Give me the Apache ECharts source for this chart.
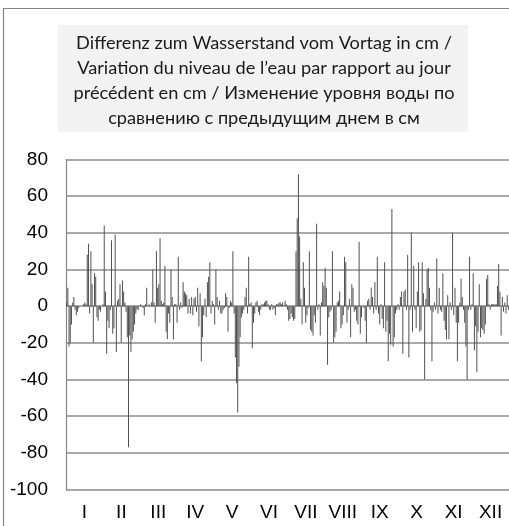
<!DOCTYPE html>
<html>
<head>
<meta charset="utf-8">
<script src="https://cdn.jsdelivr.net/npm/echarts@6/dist/echarts.min.js"></script>
<style>
  html, body { margin: 0; padding: 0; background: #ffffff; }
  #chart { width: 509px; height: 526px; }
</style>
</head>
<body>
<div id="chart"></div>
<script>
// Daily change of the water level against the previous day, in cm, month by month
const jan = [2, 10, -22, -20, -10, 2, 5, -2, -5, -3, -1, 0, 0, 0, 1, 2, 1, 28, 34, -4, 30, 12, -20, 18, 16, -6, -8, -2, -3, 0, 1];
const feb = [44, 8, -26, -8, -12, -2, 36, -15, -12, 39, -25, 3, 4, 12, -20, 14, 8, 2, -3, -17, -77, -16, -25, -18, -14, -10, -4, -2];
const mar = [-2, 0, 1, 0, -1, -5, 1, 10, 0, 1, 0, 2, 20, 2, -9, 30, 10, 12, 37, 3, 1, 2, 22, -14, -18, -4, -9, 20, 5, -18, 1];
const apr = [1, -9, 27, -2, 2, -1, 13, 8, 7, 6, -4, 4, -4, 5, -5, 4, 5, -3, 10, -11, 7, -30, -17, -5, 4, -6, 13, 16, 24, -4];
const may = [3, 1, -10, 20, 5, -2, 3, -4, -4, -2, -1, 7, 5, -14, -1, 3, 2, 30, -4, -28, -42, -58, -33, -17, -6, -4, -2, 5, 10, -4, 27];
const jun = [1, 2, -23, -9, -4, 2, 3, -3, -5, -2, 1, 1, 2, 3, 3, 1, -2, -2, 1, -2, -1, -5, 1, 1, 2, 2, 1, 2, 0, 3];
const jul = [1, -2, -8, -7, -4, -6, -8, -7, 30, 48, 72, 38, 4, -10, 24, 10, -9, -5, -1, 30, -13, -14, -16, -5, -9, 45, -2, 1, -16, 2, 13];
const aug = [11, 21, 10, -32, -6, -3, -2, 30, -20, -17, -14, 2, 3, 8, -12, -10, -5, 27, 24, -9, -2, 4, -17, 12, 10, -3, -2, -8, -10, 35, -15];
const sep = [-6, 0, -1, -8, -20, 3, 4, -2, 10, 5, -4, 13, -2, 27, -4, -10, 1, -7, -12, 24, -14, -8, -30, -15, -21, 53, -22, -17, -4, -2];
const oct = [1, -2, 5, 8, -26, 8, 9, -2, 28, -28, -2, 40, -14, 22, -2, -12, 8, 24, -14, -13, 24, 7, -40, 4, 20, 21, 10, -2, -30, -3, 2];
const nov = [-2, 26, -4, 10, -2, -3, 18, -8, -13, -18, 6, -18, 2, -2, 40, -5, 10, -9, -30, -9, 2, 15, 5, -2, -9, -22, -40, -2, 27, -2];
const dec = [1, 18, -24, -11, -36, -14, 12, -17, -12, -13, -15, -10, 15, 17, 1, -2, 1, 1, 1, 1, 1, 11, 23, 8, -16, 5, -3, 2, -4, 6, -2];

const monthLabels = ['I', 'II', 'III', 'IV', 'V', 'VI', 'VII', 'VIII', 'IX', 'X', 'XI', 'XII'];
const yTicks = { min: -100, max: 80, step: 20 };
const titleLines = [
  'Differenz zum Wasserstand vom Vortag in cm /',
  'Variation du niveau de l\u2019eau par rapport au jour',
  'précédent en cm / Изменение уровня воды по',
  'сравнению с предыдущим днем в см'
];

const daily = [].concat(jan, feb, mar, apr, may, jun, jul, aug, sep, oct, nov, dec);
const days = daily.map((_, i) => String(i + 1));

const chart = echarts.init(document.getElementById('chart'), null, { renderer: 'canvas' });

chart.setOption({
  animation: false,
  backgroundColor: '#ffffff',
  grid: { left: 66, right: -7, top: 159.5, bottom: 36.5, containLabel: false },
  graphic: [
    {
      type: 'rect',
      shape: { x: 3.5, y: 8.5, width: 530, height: 540 },
      style: { fill: 'none', stroke: '#868686', lineWidth: 1.2 },
      silent: true
    },
    {
      type: 'rect',
      shape: { x: 58, y: 25, width: 410, height: 107 },
      style: { fill: '#f2f2f2' },
      silent: true
    },
    {
      type: 'text',
      x: 264,
      y: 31,
      style: {
        text: titleLines.join('\n'),
        font: '18.2px Lato',
        fill: '#1a1a1a',
        align: 'center',
        verticalAlign: 'top',
        lineHeight: 24.8
      },
      silent: true
    }
  ],
  xAxis: [
    {
      type: 'category',
      data: days,
      show: false,
      boundaryGap: true
    },
    {
      type: 'category',
      data: monthLabels,
      position: 'bottom',
      boundaryGap: true,
      axisLine: { show: false, onZero: false },
      axisTick: { show: false },
      splitLine: { show: false },
      axisLabel: {
        interval: 0,
        margin: 14,
        fontSize: 19,
        fontFamily: 'Liberation Sans',
        color: '#000000'
      }
    }
  ],
  yAxis: {
    type: 'value',
    min: yTicks.min,
    max: yTicks.max,
    interval: yTicks.step,
    axisLine: { show: true, lineStyle: { color: '#868686', width: 1.2 } },
    axisTick: { show: false },
    splitLine: { show: true, lineStyle: { color: '#8c8c8c', width: 1.5 } },
    axisLabel: {
      margin: 18,
      fontSize: 19,
      fontFamily: 'Liberation Sans',
      color: '#000000'
    }
  },
  series: [
    {
      type: 'bar',
      xAxisIndex: 0,
      data: daily,
      barWidth: 0.62,
      itemStyle: { color: '#505050' },
      silent: true
    }
  ]
});
</script>
</body>
</html>
